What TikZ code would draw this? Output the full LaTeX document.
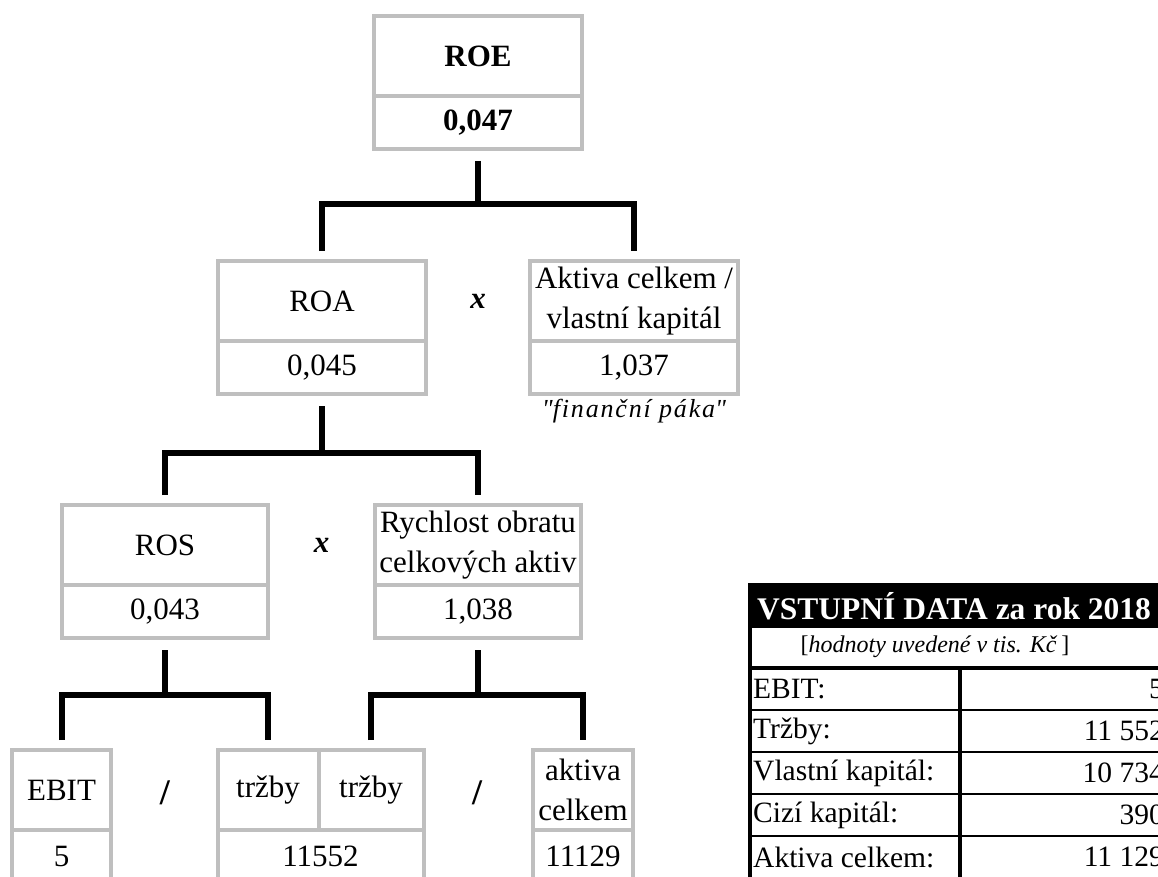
\documentclass[tikz,border=0pt]{standalone}
\usepackage{fontspec}
\setmainfont{Liberation Serif}
\usetikzlibrary{positioning,calc}
\definecolor{boxgray}{RGB}{191,191,191}

\tikzset{
  lbl/.style={draw=boxgray, line width=4pt, outer sep=0pt, inner sep=0pt,
    minimum width=208pt, minimum height=80pt, align=center,
    font=\fontsize{31}{40}\selectfont},
  val/.style={lbl, minimum height=53pt},
  conn/.style={line width=6pt},
  sign/.style={font=\fontsize{31}{37}\selectfont\bfseries\itshape},
  slash/.style={font=\fontsize{36}{40}\selectfont\bfseries},
  tbl/.style={inner sep=0pt, font=\fontsize{29.5}{34}\selectfont},
}

\begin{document}
\begin{tikzpicture}[x=1pt,y=1pt]
  \useasboundingbox (0,0) rectangle (1158,-877);
  \clip (0,0) rectangle (1158,-877);

  %Top
  \node[lbl] (roe) at (478,-56) {\textbf{ROE}};
  \node[val, below=0pt of roe] (roev) {\textbf{0,047}};

  %Level 1
  \node[lbl] (roa) at (322,-301) {ROA};
  \node[val, below=0pt of roa] (roav) {0,045};
  \node[lbl] (akt) at (634,-301) {Aktiva celkem /\\vlastní kapitál};
  \node[val, below=0pt of akt] (aktv) {1,037};
  \node[sign] (krat1) at ($(roa)!0.5!(akt)$) {x};
  \node[below=5pt of aktv, inner sep=0pt,
    font=\fontsize{26}{29}\selectfont\itshape\addfontfeatures{LetterSpace=7}] (paka)
    {\textquotedbl finanční páka\textquotedbl};

  %Level 2
  \node[lbl, minimum width=206pt] (ros) at (165,-545) {ROS};
  \node[val, minimum width=206pt, below=0pt of ros] (rosv) {0,043};
  \node[lbl, minimum width=206pt] (rych) at (478,-545) {Rychlost obratu\\celkových aktiv};
  \node[val, minimum width=206pt, below=0pt of rych] (rychv) {1,038};
  \node[sign] (krat2) at ($(ros)!0.5!(rych)$) {x};

  %Level 3
  \node[lbl, minimum width=99pt] (ebit) at (61.5,-790) {EBIT};
  \node[val, minimum width=99pt, below=0pt of ebit] (ebitv) {5};
  \node[lbl, minimum width=101pt] (trz1) at (268,-790) {tržby};
  \node[lbl, minimum width=105pt, right=0pt of trz1] (trz2) {tržby};
  \node[val, minimum width=206pt, anchor=north] (trzv)
    at ($(trz1.south west)!0.5!(trz2.south east)$) {11552};
  \node[lbl, minimum width=100pt] (aktc) at (583,-790) {aktiva\\celkem};
  \node[val, minimum width=100pt, below=0pt of aktc] (aktcv) {11129};
  \node[slash] (del1) at ($(ebit)!0.5!(trz1)+(0,-3)$) {/};
  \node[slash] (del2) at ($(trz2)!0.5!(aktc)+(0,-3)$) {/};

  %Connectors
  \draw[conn] ([yshift=-12pt]roev.south) -- ++(0,-43) coordinate (j0);
  \draw[conn] ([yshift=10pt]roa.north) |- (j0) -| ([yshift=10pt]akt.north);
  \draw[conn] ([yshift=-12pt]roav.south) -- ++(0,-47) coordinate (j1);
  \draw[conn] ([yshift=10pt]ros.north) |- (j1) -| ([yshift=10pt]rych.north);
  \draw[conn] ([yshift=-12pt]rosv.south) -- ++(0,-45) coordinate (j2);
  \draw[conn] ([yshift=10pt]ebit.north) |- (j2) -| ([yshift=10pt]trz1.north);
  \draw[conn] ([yshift=-12pt]rychv.south) -- ++(0,-45) coordinate (j3);
  \draw[conn] ([yshift=10pt]trz2.north) |- (j3) -| ([yshift=10pt]aktc.north);

  %Input data
  \fill (750,-583) rectangle (1180,-626);
  \node[anchor=west, inner sep=0pt, text=white,
    font=\fontsize{31.5}{37}\selectfont\bfseries] (head) at (757,-606) {VSTUPNÍ DATA za rok 2018};
  \node[inner sep=0pt, font=\fontsize{24}{27}\selectfont] (unit) at (935,-647)
    {[\textit{hodnoty uvedené v tis. Kč}\,]};
  \foreach \name/\num [count=\i] in {EBIT:/5, Tržby:/11 552,
      Vlastní kapitál:/10 734, Cizí kapitál:/390, Aktiva celkem:/11 129} {
    \node[tbl, anchor=west] (lab\i) at (753,{-647-42*\i}) {\name};
    \node[tbl, anchor=east] (num\i) at (1164,{-647-42*\i}) {\num};
    \draw[line width=1.5pt] (750,{-668-42*\i}) -- (1180,{-668-42*\i});
  }
  \draw[line width=4pt] (750,-626) rectangle (1180,-668);
  \draw[line width=4pt] (750,-583) -- (750,-890);
  \draw[line width=3.5pt] (960,-668) -- (960,-890);
\end{tikzpicture}
\end{document}
